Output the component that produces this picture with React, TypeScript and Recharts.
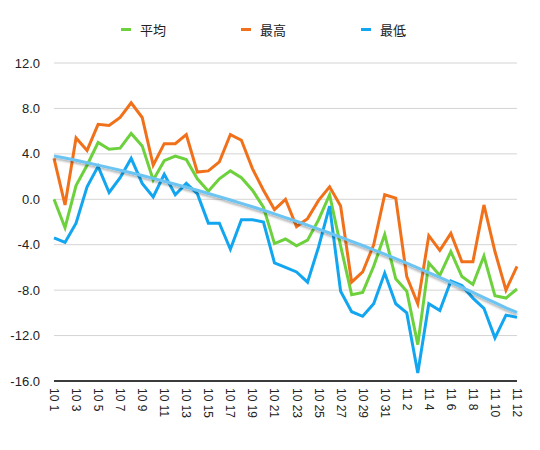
import { LineChart, Line, XAxis, YAxis, CartesianGrid, Legend } from 'recharts';

const days = [
  '10 1', '10 2', '10 3', '10 4', '10 5', '10 6', '10 7', '10 8', '10 9', '10 10',
  '10 11', '10 12', '10 13', '10 14', '10 15', '10 16', '10 17', '10 18', '10 19', '10 20',
  '10 21', '10 22', '10 23', '10 24', '10 25', '10 26', '10 27', '10 28', '10 29', '10 30',
  '10 31', '11 1', '11 2', '11 3', '11 4', '11 5', '11 6', '11 7', '11 8', '11 9',
  '11 10', '11 11', '11 12',
];

const avgTemp = [
  0.0, -2.5, 1.2, 3.0, 5.0, 4.4, 4.5, 5.8, 4.7, 1.7,
  3.4, 3.8, 3.5, 1.8, 0.7, 1.8, 2.5, 1.9, 0.8, -0.7,
  -3.9, -3.5, -4.1, -3.6, -1.8, 0.4, -4.1, -8.4, -8.2, -5.9,
  -3.1, -7.0, -8.1, -12.8, -5.6, -6.7, -4.6, -6.8, -7.5, -5.0,
  -8.5, -8.7, -7.9,
];

const maxTemp = [
  3.6, -0.5, 5.4, 4.3, 6.6, 6.5, 7.2, 8.5, 7.2, 3.0,
  4.9, 4.9, 5.7, 2.4, 2.5, 3.3, 5.7, 5.2, 2.7, 0.8,
  -0.9, 0.0, -2.4, -1.7, -0.1, 1.1, -0.6, -7.3, -6.4, -4.0,
  0.4, 0.1, -6.8, -9.2, -3.2, -4.5, -3.0, -5.5, -5.5, -0.5,
  -4.6, -8.0, -5.9,
];

const minTemp = [
  -3.4, -3.8, -2.1, 1.1, 2.9, 0.6, 1.9, 3.6, 1.4, 0.2,
  2.2, 0.4, 1.4, 0.5, -2.1, -2.1, -4.4, -1.8, -1.8, -2.0,
  -5.6, -6.0, -6.4, -7.3, -4.2, -0.6, -8.1, -9.9, -10.3, -9.2,
  -6.5, -9.2, -10.0, -15.3, -9.2, -9.8, -7.2, -7.6, -8.7, -9.6,
  -12.2, -10.2, -10.4,
];

// polynomial trend line as drawn in the reference
const trend = [
  3.82, 3.63, 3.43, 3.22, 3.01, 2.79, 2.56, 2.34, 2.09, 1.84,
  1.59, 1.33, 1.06, 0.79, 0.51, 0.23, -0.06, -0.36, -0.66, -0.97,
  -1.29, -1.61, -1.93, -2.27, -2.62, -2.97, -3.33, -3.70, -4.07, -4.45,
  -4.83, -5.23, -5.63, -6.04, -6.46, -6.88, -7.32, -7.75, -8.19, -8.65,
  -9.10, -9.56, -9.96,
];

const yTicks = [-16, -12, -8, -4, 0, 4, 8, 12];

const data = days.map((d, i) => ({
  day: d,
  avg: avgTemp[i],
  max: maxTemp[i],
  min: minTemp[i],
  trend: trend[i],
}));

const FONT = '"Liberation Sans", "Noto Sans CJK JP", sans-serif';

const legendItems = [
  { name: '平均', color: '#6cd13c' },
  { name: '最高', color: '#f1711b' },
  { name: '最低', color: '#12a6f0' },
];

function TopLegend() {
  return (
    <div style={{ display: 'flex', paddingLeft: 121, fontFamily: FONT, fontSize: 13, color: '#222' }}>
      {legendItems.map((it) => (
        <div key={it.name} style={{ display: 'flex', alignItems: 'center', width: 120 }}>
          <span style={{ width: 10, height: 3, background: it.color, marginRight: 9, display: 'inline-block' }} />
          <span>{it.name}</span>
        </div>
      ))}
    </div>
  );
}

function DayTick(props: any) {
  const { x, y, payload } = props;
  return (
    <text
      x={x}
      y={y}
      transform={`rotate(90, ${x}, ${y})`}
      textAnchor="start"
      dominantBaseline="central"
      fontFamily={FONT}
      fontSize={12}
      fill="#222"
    >
      {payload.value}
    </text>
  );
}

export default function App() {
  return (
    <div style={{ position: 'absolute', left: 0, top: 0, background: '#fff' }}>
      <LineChart width={540} height={450} data={data} margin={{ top: 20, right: 23, bottom: 0, left: 0 }}>
        <defs>
          <filter id="trendShadow" x="-5%" y="-50%" width="110%" height="200%">
            <feDropShadow dx="0" dy="2" stdDeviation="1.2" floodColor="#000" floodOpacity="0.3" />
          </filter>
        </defs>
        <CartesianGrid horizontal vertical={false} stroke="#d4d4d4" />
        <Legend verticalAlign="top" height={43} content={() => <TopLegend />} />
        <XAxis
          dataKey="day"
          interval={1}
          tick={<DayTick />}
          tickLine={false}
          axisLine={{ stroke: '#000', strokeWidth: 1.5 }}
          tickMargin={1}
          height={69}
        />
        <YAxis
          domain={[-16, 12]}
          ticks={yTicks}
          tickFormatter={(v: number) => v.toFixed(1)}
          tickLine={false}
          axisLine={false}
          width={54}
          tick={{ fontFamily: FONT, fontSize: 13, fill: '#222' }}
          tickMargin={8}
        />
        <Line dataKey="avg" name="平均" stroke="#6cd13c" strokeWidth={3} dot={false} isAnimationActive={false} />
        <Line dataKey="max" name="最高" stroke="#f1711b" strokeWidth={3} dot={false} isAnimationActive={false} />
        <Line dataKey="min" name="最低" stroke="#12a6f0" strokeWidth={3} dot={false} isAnimationActive={false} />
        <Line
          dataKey="trend"
          legendType="none"
          stroke="#6cc4f2"
          strokeWidth={3}
          dot={false}
          isAnimationActive={false}
          filter="url(#trendShadow)"
        />
      </LineChart>
    </div>
  );
}
